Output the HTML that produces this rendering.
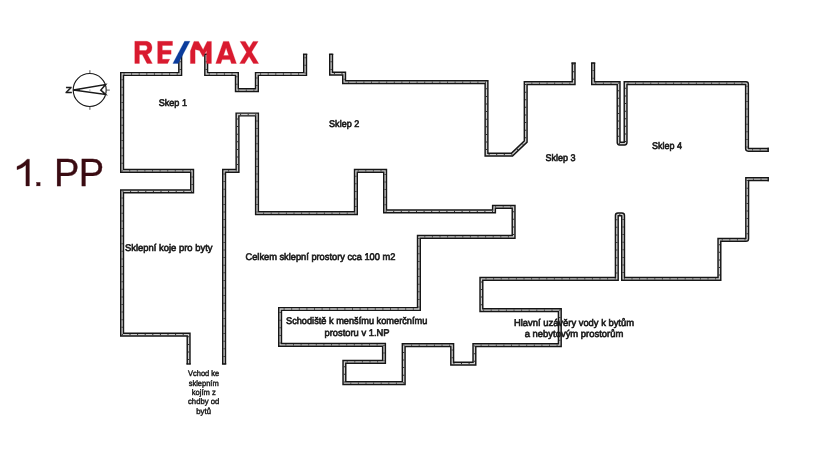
<!DOCTYPE html>
<html>
<head>
<meta charset="utf-8">
<title>1. PP</title>
<style>
html,body{margin:0;padding:0;background:#fff;}
body{width:816px;height:468px;overflow:hidden;font-family:"Liberation Sans",sans-serif;}
svg{display:block;}
.wo{fill:none;stroke:#161616;stroke-width:4.2;stroke-linejoin:miter;stroke-linecap:butt;}
.wi{fill:none;stroke:#cfcfcf;stroke-width:1.3;stroke-linejoin:miter;stroke-linecap:butt;}
.wh{fill:none;stroke:#303030;stroke-width:1.3;stroke-dasharray:1 6.6;stroke-linejoin:miter;stroke-linecap:butt;}
.t{font-family:"Liberation Sans",sans-serif;font-size:9.7px;text-rendering:geometricPrecision;fill:#1c1c1c;stroke:#1c1c1c;stroke-width:0.65;}
.ts{font-family:"Liberation Sans",sans-serif;font-size:8px;text-rendering:geometricPrecision;fill:#1c1c1c;stroke:#1c1c1c;stroke-width:0.45;}
</style>
</head>
<body>
<svg width="816" height="468" viewBox="0 0 816 468">
<rect width="816" height="468" fill="#ffffff"/>
<defs>
<filter id="idf" x="0" y="0" width="816" height="468" filterUnits="userSpaceOnUse" color-interpolation-filters="sRGB"><feOffset dx="0" dy="0"/></filter>
<path id="pA" d="M180.2 53.7 V74 H122.1 V170.9 H192.1 V191.4 H122.1 V334.6 H188.6 V364.5"/>
<path id="pB" d="M206.2 53.7 V74 H236.9 V90.1 H256.9 V74 H305.1 V53.7"/>
<path id="pC" d="M331.1 53.7 V73.7 H344.1 V82.2 H486.5 V154.6 H512 L525.7 141.5 V83.1 H573.6 V62.5"/>
<path id="pD" d="M593.1 62.5 V83.1 H618.6 V142.6 Q618.6 143.6 619.6 143.6 H624.6 Q625.6 143.6 625.6 142.6 V83.1 H746 Q747 83.1 747 84.1 V148.6 Q747 149.8 748.2 149.8 H768.8"/>
<path id="pF" d="M224.1 364.5 V170.9 H237.5 V114.5 H257 V213.1 H355.9 V170.9 H385.1 V211.4 H494 V206.9 H513.6 V236.9 H418.9 V309 H280.1 V344.8 H384 V361.9 H344.4 V383.1 H403.7 V345.1 H452.2 V363.6 H474.4 V345.2 H559.8 V310.1 H481.4 V278.9 H616.8 V215.6 Q616.8 214.4 618 214.4 H621.9 Q623.1 214.4 623.1 215.6 V278.9 H719.4 V239.9 H746 Q747.2 239.9 747.2 238.7 V179.2 H768.8"/>
</defs>
<g class="wo">
<use href="#pA"/><use href="#pB"/><use href="#pC"/><use href="#pD"/><use href="#pF"/>
</g>
<g class="wi">
<use href="#pA"/><use href="#pB"/><use href="#pC"/><use href="#pD"/><use href="#pF"/>
</g>
<g class="wh">
<use href="#pA"/><use href="#pB"/><use href="#pC"/><use href="#pD"/><use href="#pF"/>
</g>

<g fill="#141414"><rect x="178.05" y="53.70" width="4.3" height="1.2"/><rect x="204.05" y="53.70" width="4.3" height="1.2"/><rect x="302.95" y="53.70" width="4.3" height="1.2"/><rect x="328.95" y="53.70" width="4.3" height="1.2"/><rect x="571.45" y="62.50" width="4.3" height="1.2"/><rect x="590.95" y="62.50" width="4.3" height="1.2"/><rect x="186.45" y="363.30" width="4.3" height="1.2"/><rect x="221.95" y="363.30" width="4.3" height="1.2"/><rect x="767.60" y="147.65" width="1.2" height="4.3"/><rect x="767.60" y="177.05" width="1.2" height="4.3"/></g>
<!-- logo -->
<g id="logo" fill="#d91a2f" stroke="#d91a2f" stroke-width="0.3">
<path fill-rule="evenodd" d="M134.8 41.3 H145.5 C149.6 41.3 152 44 152 47.8 C152 51 150.1 53.5 147.3 54.2 L152.3 63.4 H147 L142.3 54.6 H139.4 V63.4 H134.8 Z M139.4 45.3 H145 C146.5 45.3 147.3 46.5 147.3 47.9 C147.3 49.3 146.5 50.6 145 50.6 H139.4 Z"/>
<path d="M157.7 41.3 H172.5 V45.4 H162.3 V50.2 H171.1 V54.2 H162.3 V59.3 H169.7 L167.6 63.4 H157.7 Z"/>
<path fill="#0b3c9c" stroke="#0b3c9c" d="M184.6 41.3 H189.9 L178.2 63.4 H172.9 Z"/>
<path d="M190.4 63.5 V51 L194 41.4 H198.5 L203.1 49.8 L207.2 41.4 H211.4 V63.5 H206.6 V50.5 L203.1 57 L199.5 50.5 L195.1 49.4 V63.5 Z"/>
<path fill-rule="evenodd" d="M215.8 63.5 L223.4 41.4 H228.8 L236.4 63.5 H231.4 L230.1 59.6 H222.1 L220.8 63.5 Z M223.5 55.5 H228.7 L226.1 47.8 Z"/>
<path d="M240.1 41.4 H245.3 L258.6 63.5 H253.4 Z M253.1 41.4 H258.1 L244.7 63.5 H239.7 Z"/>
</g>
<g filter="url(#idf)">
<!-- compass -->
<g fill="none" stroke="#1a1a1a" stroke-width="1.15">
<circle cx="89.7" cy="90" r="16.5"/>
<path d="M89.9 70.2 V73.2 M89.9 106.8 V109.8 M106.5 90.1 H109.8" stroke-width="0.9" stroke="#444"/>
<path d="M73.4 90.1 L105.6 84.6 L100.8 90.1 L105.6 94.4 Z" stroke-width="1.5" stroke-linejoin="miter"/>
<path d="M73.4 90.1 H80" stroke-width="1.6"/>
<path d="M89.4 90.1 H90.4" stroke-width="0.8" stroke="#555"/>
</g>
<text x="65.5" y="93.3" font-family="Liberation Sans" font-weight="bold" font-size="8.8" fill="#1a1a1a" stroke="#1a1a1a" stroke-width="0.4" textLength="6.4" lengthAdjust="spacingAndGlyphs">Z</text>

<!-- title -->
<g fill="#3a0b12" stroke="#3a0b12" stroke-width="0.35">
<path d="M29.4 185.9 H25.9 V164.9 C24.2 166.6 20.6 168.7 17 169.7 V166.5 C21.5 164.5 25.5 161.5 27.1 159.2 H29.4 Z"/>
<rect x="36.7" y="182.4" width="3.4" height="3.5"/>
<text x="54.1 78.7" y="185.9" font-family="Liberation Sans" font-size="38">PP</text>
</g>

<!-- labels -->
<text class="t" x="158.7" y="105.5" textLength="28.3" lengthAdjust="spacingAndGlyphs">Skep 1</text>
<text class="t" x="329.1" y="126.5" textLength="30.1" lengthAdjust="spacingAndGlyphs">Sklep 2</text>
<text class="t" x="545.5" y="161.4" textLength="30" lengthAdjust="spacingAndGlyphs">Sklep 3</text>
<text class="t" x="651.9" y="149" textLength="30" lengthAdjust="spacingAndGlyphs">Sklep 4</text>
<text class="t" x="125" y="250.9" textLength="87.5" lengthAdjust="spacingAndGlyphs">Sklepní koje pro byty</text>
<text class="t" x="245.5" y="259.7" textLength="149.8" lengthAdjust="spacingAndGlyphs">Celkem sklepní prostory cca 100 m2</text>
<text class="t" x="286" y="324.3" textLength="141.3" lengthAdjust="spacingAndGlyphs">Schodiště k menšímu komerčnímu</text>
<text class="t" x="324.5" y="336.3" textLength="65" lengthAdjust="spacingAndGlyphs">prostoru v 1.NP</text>
<text class="t" x="514" y="325.5" textLength="120" lengthAdjust="spacingAndGlyphs">Hlavní uzávěry vody k bytům</text>
<text class="t" x="524.7" y="336.8" textLength="98.7" lengthAdjust="spacingAndGlyphs">a nebytovým prostorům</text>

<g>
<text class="ts" x="188.0" y="376.2" textLength="31.3" lengthAdjust="spacingAndGlyphs">Vchod ke</text>
<text class="ts" x="188.7" y="385.5" textLength="30.0" lengthAdjust="spacingAndGlyphs">sklepním</text>
<text class="ts" x="191.8" y="394.9" textLength="23.9" lengthAdjust="spacingAndGlyphs">kojím z</text>
<text class="ts" x="188.0" y="404.4" textLength="31.3" lengthAdjust="spacingAndGlyphs">chdby od</text>
<text class="ts" x="196.3" y="413.8" textLength="14.7" lengthAdjust="spacingAndGlyphs">bytů</text>
</g>
</g>
</svg>
</body>
</html>
